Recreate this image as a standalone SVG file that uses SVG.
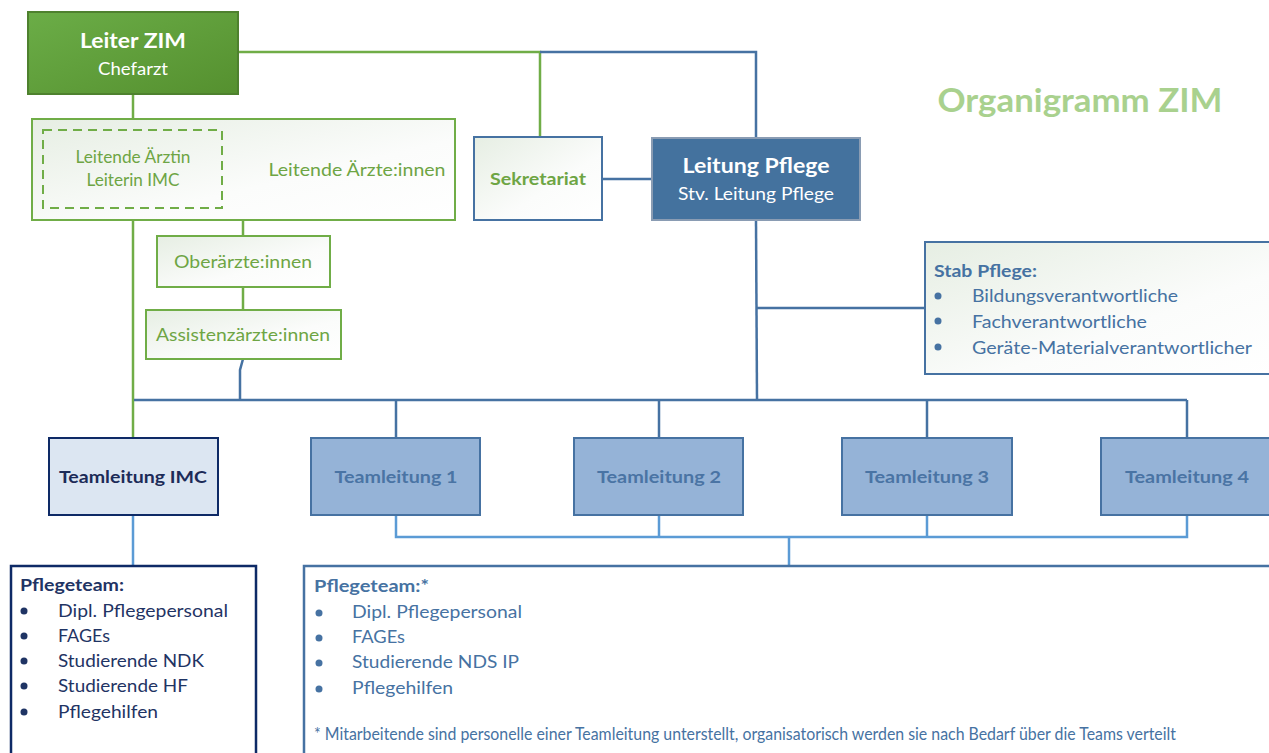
<svg xmlns="http://www.w3.org/2000/svg" width="1269" height="753" viewBox="0 0 1269 753">
<defs>
<linearGradient id="gdark" x1="0" y1="0" x2="1" y2="1"><stop offset="0" stop-color="#6bad47"/><stop offset="1" stop-color="#55902f"/></linearGradient>
<linearGradient id="glight" x1="0" y1="0" x2="1" y2="1"><stop offset="0" stop-color="#e6eee3"/><stop offset="0.6" stop-color="#fbfcfb"/><stop offset="1" stop-color="#ffffff"/></linearGradient>
<style>
text{font-family:Lato,"Open Sans","Liberation Sans",sans-serif;}
.b{font-weight:bold;}
.gl{stroke:#70ad47;stroke-width:2.5;fill:none;}
.bl{stroke:#4672a2;stroke-width:2.5;fill:none;}
.lb{stroke:#5b9bd5;stroke-width:2.5;fill:none;}
.lightg{fill:url(#glight);stroke:#70ad47;stroke-width:2;}
.tl{fill:#95b3d7;stroke:#4672a2;stroke-width:2;}
.tlt{fill:#4a74a4;font-size:17px;font-weight:bold;text-anchor:middle;}
.gt{fill:#6ea544;font-size:17px;text-anchor:middle;}
.nv{fill:#1f3464;font-size:17px;}
.bt{fill:#4672a2;font-size:17px;}
</style>
</defs>

<g id="connectors">
<polyline class="gl" points="238,52 540,52 540,138"/>
<polyline class="bl" points="540,52 756,52 756,138"/>
<line class="gl" x1="133" y1="94" x2="133" y2="130"/>
<line class="gl" x1="133" y1="207" x2="133" y2="438"/>
<line class="gl" x1="243" y1="220" x2="243" y2="236"/>
<line class="gl" x1="243" y1="287" x2="243" y2="310"/>
<path class="bl" d="M243,359 L240,370 L240,400"/>
<line class="bl" x1="602" y1="179" x2="652" y2="179"/>
<line class="bl" x1="756" y1="220" x2="757" y2="400"/>
<line class="bl" x1="756" y1="308" x2="925" y2="308"/>
<line class="bl" x1="134" y1="400" x2="1187" y2="400"/>
<line class="bl" x1="396" y1="400" x2="396" y2="438"/>
<line class="bl" x1="659" y1="400" x2="659" y2="438"/>
<line class="bl" x1="927" y1="400" x2="927" y2="438"/>
<line class="bl" x1="1187" y1="400" x2="1187" y2="438"/>
<polyline class="lb" points="396,515 396,537 1187,537 1187,515"/>
<line class="lb" x1="659" y1="515" x2="659" y2="537"/>
<line class="lb" x1="927" y1="515" x2="927" y2="537"/>
<line class="lb" x1="789" y1="537" x2="789" y2="566"/>
<line class="lb" x1="133" y1="515" x2="133" y2="566"/>
</g>

<g id="title">
<text x="1080" y="112" class="b" fill="#a9d18e" font-size="32" text-anchor="middle" textLength="285" lengthAdjust="spacingAndGlyphs">Organigramm ZIM</text>
</g>

<g id="leiter-zim">
<rect x="28" y="12" width="210" height="82" fill="url(#gdark)" stroke="#4e812e" stroke-width="2"/>
<text x="133" y="48" class="b" fill="#ffffff" font-size="21" text-anchor="middle" textLength="106" lengthAdjust="spacingAndGlyphs">Leiter ZIM</text>
<text x="133" y="75" fill="#ffffff" font-size="17" text-anchor="middle" textLength="70" lengthAdjust="spacingAndGlyphs">Chefarzt</text>
</g>

<g id="leitende-aerzte">
<rect x="32" y="119" width="423" height="101" class="lightg"/>
<rect x="43" y="130" width="179" height="78" fill="none" stroke="#70ad47" stroke-width="2" stroke-dasharray="9,6"/>
<text x="133" y="163" class="gt" font-size="15" textLength="115" lengthAdjust="spacingAndGlyphs">Leitende Ärztin</text>
<text x="133" y="186" class="gt" font-size="15" textLength="93" lengthAdjust="spacingAndGlyphs">Leiterin IMC</text>
<text x="357" y="176" class="gt" textLength="177" lengthAdjust="spacingAndGlyphs">Leitende Ärzte:innen</text>
</g>

<g id="oberaerzte">
<rect x="157" y="236" width="173" height="51" class="lightg"/>
<text x="243" y="268" class="gt" textLength="138" lengthAdjust="spacingAndGlyphs">Oberärzte:innen</text>
</g>

<g id="assistenzaerzte">
<rect x="146" y="310" width="195" height="49" class="lightg"/>
<text x="243" y="341" class="gt" textLength="174" lengthAdjust="spacingAndGlyphs">Assistenzärzte:innen</text>
</g>

<g id="sekretariat">
<rect x="474" y="137" width="128" height="83" fill="url(#glight)" stroke="#4672a2" stroke-width="2"/>
<text x="538" y="185" class="b" fill="#6ea544" font-size="17" text-anchor="middle" textLength="96" lengthAdjust="spacingAndGlyphs">Sekretariat</text>
</g>

<g id="leitung-pflege">
<rect x="652" y="138" width="208" height="82" fill="#44729e" stroke="#8a9cb3" stroke-width="2"/>
<text x="756" y="173" class="b" fill="#ffffff" font-size="21" text-anchor="middle" textLength="147" lengthAdjust="spacingAndGlyphs">Leitung Pflege</text>
<text x="756" y="200" fill="#ffffff" font-size="17" text-anchor="middle" textLength="156" lengthAdjust="spacingAndGlyphs">Stv. Leitung Pflege</text>
</g>

<g id="stab-pflege">
<rect x="925" y="242" width="360" height="132" fill="url(#glight)" stroke="#4672a2" stroke-width="2"/>
<text x="934" y="277" class="bt b" textLength="103" lengthAdjust="spacingAndGlyphs">Stab Pflege:</text>
<circle cx="938" cy="296" r="3.5" fill="#4672a2"/>
<circle cx="938" cy="321" r="3.5" fill="#4672a2"/>
<circle cx="938" cy="347" r="3.5" fill="#4672a2"/>
<text x="972" y="302" class="bt" textLength="206" lengthAdjust="spacingAndGlyphs">Bildungsverantwortliche</text>
<text x="972" y="328" class="bt" textLength="175" lengthAdjust="spacingAndGlyphs">Fachverantwortliche</text>
<text x="972" y="354" class="bt" textLength="280" lengthAdjust="spacingAndGlyphs">Geräte-Materialverantwortlicher</text>
</g>

<g id="teamleitung-imc">
<rect x="49" y="438" width="169" height="77" fill="#dce6f2" stroke="#0e2a66" stroke-width="2"/>
<text x="133" y="483" class="b" fill="#1c2b58" font-size="17" text-anchor="middle" textLength="148" lengthAdjust="spacingAndGlyphs">Teamleitung IMC</text>
</g>

<g id="teamleitung-1">
<rect x="311" y="438" width="169" height="77" class="tl"/>
<text x="396" y="483" class="tlt" textLength="123" lengthAdjust="spacingAndGlyphs">Teamleitung 1</text>
</g>
<g id="teamleitung-2">
<rect x="574" y="438" width="169" height="77" class="tl"/>
<text x="659" y="483" class="tlt" textLength="124" lengthAdjust="spacingAndGlyphs">Teamleitung 2</text>
</g>
<g id="teamleitung-3">
<rect x="842" y="438" width="170" height="77" class="tl"/>
<text x="927" y="483" class="tlt" textLength="124" lengthAdjust="spacingAndGlyphs">Teamleitung 3</text>
</g>
<g id="teamleitung-4">
<rect x="1101" y="438" width="180" height="77" class="tl"/>
<text x="1187" y="483" class="tlt" textLength="124" lengthAdjust="spacingAndGlyphs">Teamleitung 4</text>
</g>

<g id="pflegeteam-imc">
<rect x="11" y="566" width="245" height="200" fill="#ffffff" stroke="#0e2a66" stroke-width="2.5"/>
<text x="20" y="591" class="nv b" textLength="104" lengthAdjust="spacingAndGlyphs">Pflegeteam:</text>
<circle cx="24" cy="611" r="3.5" fill="#1f3464"/>
<circle cx="24" cy="636" r="3.5" fill="#1f3464"/>
<circle cx="24" cy="661" r="3.5" fill="#1f3464"/>
<circle cx="24" cy="686" r="3.5" fill="#1f3464"/>
<circle cx="24" cy="712" r="3.5" fill="#1f3464"/>
<text x="58" y="617" class="nv" textLength="170" lengthAdjust="spacingAndGlyphs">Dipl. Pflegepersonal</text>
<text x="58" y="642" class="nv" textLength="52" lengthAdjust="spacingAndGlyphs">FAGEs</text>
<text x="58" y="667" class="nv" textLength="146" lengthAdjust="spacingAndGlyphs">Studierende NDK</text>
<text x="58" y="692" class="nv" textLength="130" lengthAdjust="spacingAndGlyphs">Studierende HF</text>
<text x="58" y="718" class="nv" textLength="100" lengthAdjust="spacingAndGlyphs">Pflegehilfen</text>
</g>

<g id="pflegeteam">
<rect x="304" y="566" width="980" height="200" fill="#ffffff" stroke="#4672a2" stroke-width="2.5"/>
<text x="314" y="592" class="bt b" textLength="115" lengthAdjust="spacingAndGlyphs">Pflegeteam:*</text>
<circle cx="319" cy="613" r="3.5" fill="#4672a2"/>
<circle cx="319" cy="638" r="3.5" fill="#4672a2"/>
<circle cx="319" cy="663" r="3.5" fill="#4672a2"/>
<circle cx="319" cy="689" r="3.5" fill="#4672a2"/>
<text x="352" y="618" class="bt" textLength="170" lengthAdjust="spacingAndGlyphs">Dipl. Pflegepersonal</text>
<text x="352" y="643" class="bt" textLength="53" lengthAdjust="spacingAndGlyphs">FAGEs</text>
<text x="352" y="668" class="bt" textLength="167" lengthAdjust="spacingAndGlyphs">Studierende NDS IP</text>
<text x="352" y="694" class="bt" textLength="101" lengthAdjust="spacingAndGlyphs">Pflegehilfen</text>
<text x="314" y="740" class="bt" font-size="13.5" textLength="862" lengthAdjust="spacingAndGlyphs">* Mitarbeitende sind personelle einer Teamleitung unterstellt, organisatorisch werden sie nach Bedarf über die Teams verteilt</text>
</g>
</svg>
